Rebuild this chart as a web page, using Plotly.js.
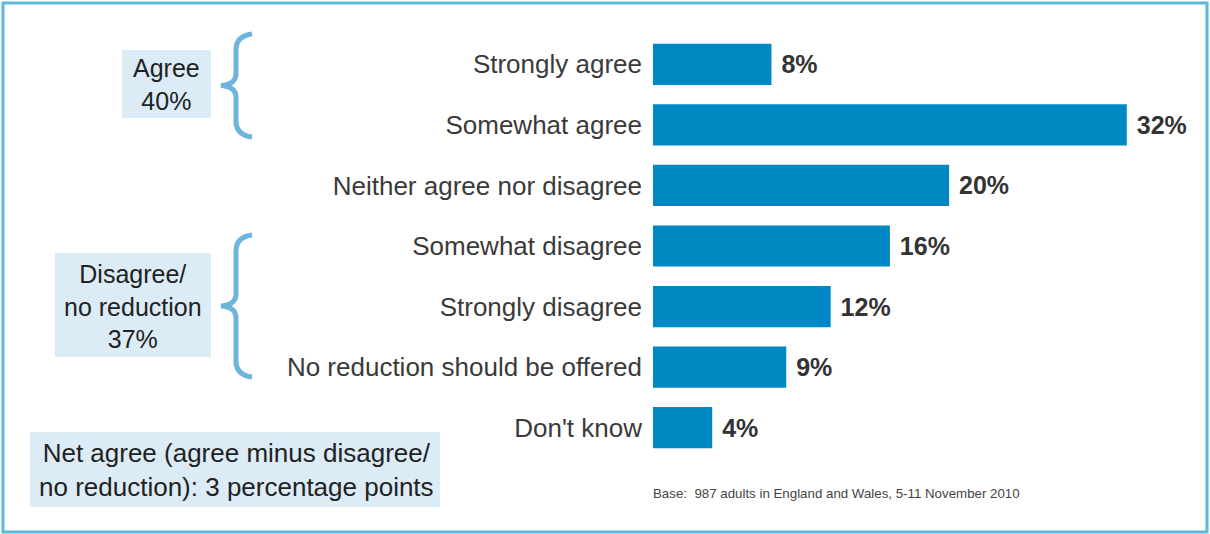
<!DOCTYPE html>
<html>
<head>
<meta charset="utf-8">
<script src="https://cdn.plot.ly/plotly-3.0.1.min.js"></script>
<style>html,body{margin:0;padding:0;background:#fff;}#chart{width:1210px;height:534px;}</style>
</head>
<body>
<div id="chart"></div>
<script>
// Data
const categories = ["Strongly agree", "Somewhat agree", "Neither agree nor disagree", "Somewhat disagree", "Strongly disagree", "No reduction should be offered", "Don't know"];
const values = [8, 32, 20, 16, 12, 9, 4];
const groupLabels = ["Agree<br>40%", "Disagree/<br>no reduction<br>37%"];
const netNote = "Net agree (agree minus disagree/<br>no reduction): 3 percentage points";
const baseNote = "Base:  987 adults in England and Wales, 5-11 November 2010";

// Layout geometry
const W = 1210, H = 534;
const M = {l: 653, r: 24, t: 34, b: 76};
const PW = W - M.l - M.r, PH = H - M.t - M.b;
const px = x => (x - M.l) / PW;
const py = y => 1 - (y - M.t) / PH;
const FONT = "Liberation Sans, Arial, sans-serif";
const BAR = "#0088c4";
const BRACE = "#6db5dd";
const BOXFILL = "#dcecf7";

function bracePath(x0, xm, xt, y0, y1) {
  const ym = (y0 + y1) / 2;
  const pts = [
    ["M", x0, y0], ["Q", xm, y0 + 2, xm, y0 + 16], ["L", xm, ym - 12],
    ["Q", xm, ym - 1, xt, ym], ["Q", xm, ym + 1, xm, ym + 12],
    ["L", xm, y1 - 16], ["Q", xm, y1 - 2, x0, y1]
  ];
  return pts.map(p => {
    const c = [];
    for (let i = 1; i < p.length; i += 2) c.push(px(p[i]).toFixed(5) + "," + py(p[i + 1]).toFixed(5));
    return p[0] + c.join(" ");
  }).join(" ");
}

const rectShape = (x0, y0, x1, y1, fill, line) => ({
  type: "rect", xref: "paper", yref: "paper", layer: "below",
  x0: px(x0), x1: px(x1), y0: py(y1), y1: py(y0),
  fillcolor: fill, line: line || {width: 0}
});

const shapes = [
  rectShape(3, 3, 1207, 532, "rgba(0,0,0,0)", {color: "#5bb8da", width: 3}),
  rectShape(122, 50, 211, 118, BOXFILL),
  rectShape(55, 253, 211, 357, BOXFILL),
  rectShape(30, 432, 440, 507, BOXFILL),
  {type: "path", xref: "paper", yref: "paper", path: bracePath(252, 236, 221, 34, 137), line: {color: BRACE, width: 5}},
  {type: "path", xref: "paper", yref: "paper", path: bracePath(252, 236, 221, 235, 377), line: {color: BRACE, width: 5}}
];

const annText = (x, y, text, size, extra) => Object.assign({
  xref: "paper", yref: "paper", x: px(x), y: py(y), text: text, showarrow: false,
  font: {family: FONT, size: size, color: "#222"}, xanchor: "center", yanchor: "middle"
}, extra || {});

const annotations = [
  annText(166, 85, groupLabels[0], 25, {align: "center"}),
  annText(133, 306, groupLabels[1], 25, {align: "center"}),
  annText(236, 470, netNote, 26, {align: "center"}),
  annText(651, 493, baseNote, 13.3, {xanchor: "left", font: {family: FONT, size: 13.3, color: "#444"}})
];

const trace = {
  type: "bar", orientation: "h",
  y: categories, x: values,
  marker: {color: BAR, line: {width: 0}},
  texttemplate: " %{x}%", textposition: "outside", cliponaxis: false,
  textfont: {family: FONT, size: 25, color: "#333", weight: "bold"},
  hoverinfo: "skip"
};

const layout = {
  width: W, height: H,
  margin: M,
  paper_bgcolor: "#fff", plot_bgcolor: "#fff",
  showlegend: false,
  bargap: 0.32,
  xaxis: {range: [0, 36], visible: false, fixedrange: true},
  yaxis: {
    autorange: false, range: [categories.length - 0.5, -0.5],
    type: "category", showgrid: false, zeroline: false, showline: false,
    ticks: "", ticklabelstandoff: 10,
    tickfont: {family: FONT, size: 26, color: "#3a3a3a"}, automargin: false
  },
  shapes: shapes,
  annotations: annotations
};

Plotly.newPlot("chart", [trace], layout, {staticPlot: true, displayModeBar: false});
</script>
</body>
</html>
